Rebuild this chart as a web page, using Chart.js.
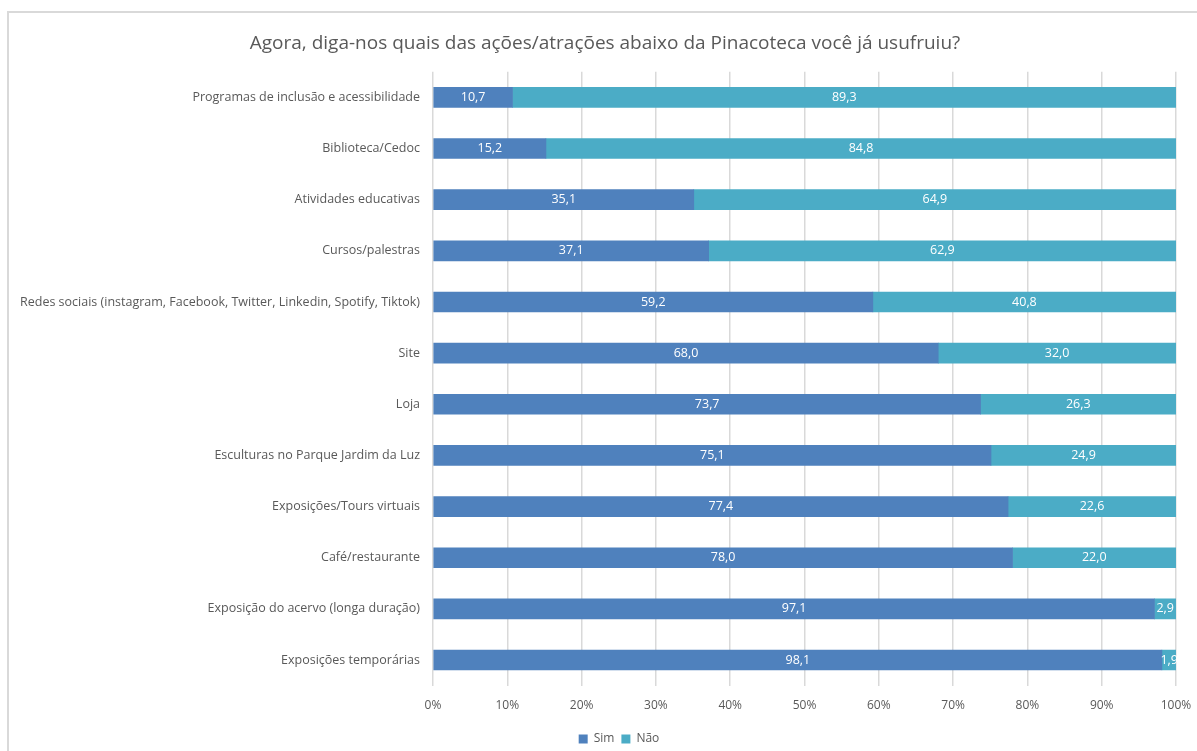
<!DOCTYPE html>
<html>
<head>
<meta charset="utf-8">
<script src="https://cdn.jsdelivr.net/npm/chart.js@4"></script>
<style>
  html, body { margin: 0; padding: 0; background: #fff; }
  #frame {
    position: absolute; left: 7px; top: 11px; width: 1200px; height: 760px;
    border-left: 2px solid #d9d9d9; border-top: 2px solid #d9d9d9;
  }
  #wrap { position: absolute; left: 0; top: 0; width: 1197px; height: 751px; }
</style>
</head>
<body>
<div id="frame"></div>
<div id="wrap"><canvas id="chart"></canvas></div>
<script>
// categories, top to bottom
const categories = [
    "Programas de inclusão e acessibilidade",
    "Biblioteca/Cedoc",
    "Atividades educativas",
    "Cursos/palestras",
    "Redes sociais (instagram, Facebook, Twitter, Linkedin, Spotify, Tiktok)",
    "Site",
    "Loja",
    "Esculturas no Parque Jardim da Luz",
    "Exposições/Tours virtuais",
    "Café/restaurante",
    "Exposição do acervo (longa duração)",
    "Exposições temporárias"
];
const simValues = [10.7, 15.2, 35.1, 37.1, 59.2, 68.0, 73.7, 75.1, 77.4, 78.0, 97.1, 98.1];
const naoValues = [89.3, 84.8, 64.9, 62.9, 40.8, 32.0, 26.3, 24.9, 22.6, 22.0, 2.9, 1.9];

const FONT = "'Open Sans', 'Noto Sans', sans-serif";

// white value labels centred in each segment
const valueLabels = {
    id: "valueLabels",
    afterDatasetsDraw(chart) {
        const ctx = chart.ctx;
        ctx.save();
        ctx.font = "12.5px " + FONT;
        ctx.fillStyle = "#ffffff";
        ctx.textAlign = "center";
        ctx.textBaseline = "middle";
        chart.data.datasets.forEach((ds, i) => {
            chart.getDatasetMeta(i).data.forEach((bar, j) => {
                const txt = ds.data[j].toFixed(1).replace(".", ",");
                let tx = (bar.base + bar.x) / 2;
                const w = ctx.measureText(txt).width;
                // keep text inside the chart area on the right
                if (tx + w / 2 > chart.chartArea.right) tx = chart.chartArea.right - w / 2 + 2;
                ctx.fillText(txt, tx, bar.y);
            });
        });
        ctx.restore();
    }
};

// nudge title and legend a bit to the right, like the original
const shiftBlocks = {
    id: "shiftBlocks",
    afterLayout(chart) {
        if (chart.titleBlock) { chart.titleBlock.left += 12; chart.titleBlock.right += 12; }
        if (chart.legend) { chart.legend.left += 26; chart.legend.right += 26; }
    }
};

new Chart(document.getElementById("chart"), {
    type: "bar",
    data: {
        labels: categories,
        datasets: [
            { label: "Sim", data: simValues, backgroundColor: "#4f81bd", barThickness: 20 },
            { label: "Não", data: naoValues, backgroundColor: "#4bacc6", barThickness: 20 }
        ]
    },
    options: {
        indexAxis: "y",
        responsive: true,
        maintainAspectRatio: false,
        animation: false,
        layout: { padding: { left: 10, right: 21, top: 6, bottom: -4 } },
        scales: {
            x: {
                stacked: true,
                min: 0,
                max: 100,
                ticks: {
                    stepSize: 10,
                    callback: v => v + "%",
                    color: "#595959",
                    font: { family: FONT, size: 12 },
                    padding: 13
                },
                grid: { color: "#d9d9d9", lineWidth: 1.5, drawTicks: false },
                border: { display: false },
                // the "100%" label fits inside the layout padding
                afterFit: s => { s.paddingRight = 0; s.paddingLeft = 0; }
            },
            y: {
                stacked: true,
                ticks: {
                    color: "#595959",
                    font: { family: FONT, size: 12.5 },
                    padding: 5
                },
                grid: { display: false },
                border: { display: false },
                afterFit: s => { s.width = 423; }
            }
        },
        plugins: {
            title: {
                display: true,
                text: "Agora, diga-nos quais das ações/atrações abaixo da Pinacoteca você já usufruiu?",
                color: "#595959",
                font: { family: FONT, size: 19, weight: "normal" },
                padding: { top: 26, bottom: 17 }
            },
            legend: {
                position: "bottom",
                labels: {
                    color: "#595959",
                    font: { family: FONT, size: 12 },
                    boxWidth: 9,
                    boxHeight: 9,
                    padding: 7
                }
            },
            tooltip: { enabled: false }
        }
    },
    plugins: [valueLabels, shiftBlocks]
});
</script>
</body>
</html>
